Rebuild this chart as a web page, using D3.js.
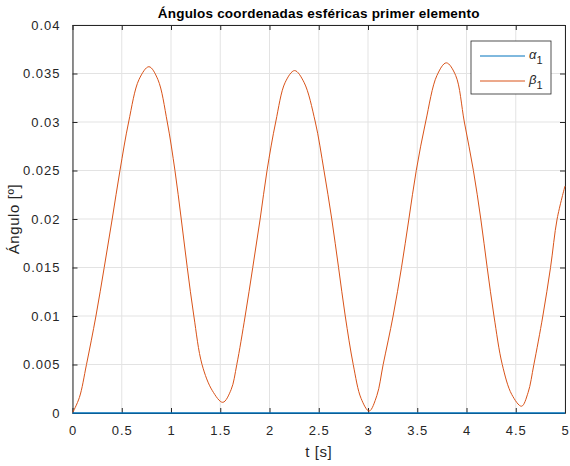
<!DOCTYPE html>
<html>
<head>
<meta charset="utf-8">
<script src="https://cdn.jsdelivr.net/npm/d3@7"></script>
<style>
  body { margin: 0; background: #fff; }
  text { font-family: "Liberation Sans", Arial, Helvetica, sans-serif; fill: #262626; }
</style>
</head>
<body>
<div id="angle_chart"></div>
<script>
// beta_1 (t in s, value in degrees)
const tValues = [0, 0.07, 0.142, 0.238, 0.322, 0.403, 0.482, 0.57, 0.676, 0.776, 0.866, 0.962, 1.04, 1.104, 1.165, 1.232, 1.315, 1.42, 1.526,
  1.61, 1.668, 1.753, 1.83, 1.905, 1.975, 2.063, 2.16, 2.255, 2.35, 2.465, 2.553, 2.632, 2.701, 2.769, 2.85, 2.93, 3.012,
  3.09, 3.154, 3.255, 3.34, 3.415, 3.49, 3.585, 3.7, 3.795, 3.89, 3.978, 4.07, 4.145, 4.21, 4.279, 4.363, 4.46, 4.559,
  4.625, 4.684, 4.775, 4.853, 4.92, 5.0];
const betaValues = [0, 0.0016, 0.005, 0.01, 0.015, 0.02, 0.025, 0.03, 0.0344, 0.0357, 0.0344, 0.03, 0.025, 0.02, 0.015, 0.01, 0.005, 0.0023, 0.0011,
  0.0024, 0.005, 0.01, 0.015, 0.02, 0.025, 0.03, 0.0341, 0.0353, 0.0341, 0.03, 0.025, 0.02, 0.015, 0.01, 0.005, 0.0015, 0.0002,
  0.0018, 0.005, 0.01, 0.015, 0.02, 0.025, 0.03, 0.0348, 0.0361, 0.0348, 0.03, 0.025, 0.02, 0.015, 0.01, 0.005, 0.0019, 0.0007,
  0.0021, 0.005, 0.01, 0.015, 0.02, 0.0234];

// alpha_1 stays at zero the whole time
const alphaT = [0, 5];
const alphaValues = [0, 0];

const xTicks = [0, 0.5, 1, 1.5, 2, 2.5, 3, 3.5, 4, 4.5, 5];
const yTicks = [0, 0.005, 0.01, 0.015, 0.02, 0.025, 0.03, 0.035, 0.04];

const seriesNames = ['α', 'β'];
const seriesColors = ['#0072bd', '#d95319'];

const margin = { top: 25, right: 5, bottom: 53, left: 72.5 },
  width = 570 - margin.left - margin.right,
  height = 466 - margin.top - margin.bottom;

const svg = d3.select('#angle_chart')
  .append('svg')
  .attr('width', 570)
  .attr('height', 466);

const g = svg.append('g')
  .attr('transform', 'translate(' + margin.left + ',' + margin.top + ')');

const xScale = d3.scaleLinear().domain([0, 5]).range([0, width]);
const yScale = d3.scaleLinear().domain([0, 0.04]).range([height, 0]);

// grid first so it sits below everything
g.append('g')
  .selectAll('line')
  .data(xTicks)
  .join('line')
  .attr('x1', d => xScale(d)).attr('x2', d => xScale(d))
  .attr('y1', 0).attr('y2', height)
  .attr('stroke', '#e3e3e3').attr('stroke-width', 1);

g.append('g')
  .selectAll('line')
  .data(yTicks)
  .join('line')
  .attr('x1', 0).attr('x2', width)
  .attr('y1', d => yScale(d)).attr('y2', d => yScale(d))
  .attr('stroke', '#e3e3e3').attr('stroke-width', 1);

const fmt = d => String(+d.toFixed(3));

// axes (box on, ticks pointing inward on all four sides)
const xAxis = d3.axisBottom(xScale).tickValues(xTicks).tickSizeInner(-5).tickSizeOuter(0).tickPadding(13).tickFormat(fmt);
const yAxis = d3.axisLeft(yScale).tickValues(yTicks).tickSizeInner(-5).tickSizeOuter(0).tickPadding(12).tickFormat(fmt);

const xAxisG = g.append('g').attr('transform', 'translate(0,' + height + ')').call(xAxis);
const yAxisG = g.append('g').call(yAxis);
const topAxisG = g.append('g').call(d3.axisTop(xScale).tickValues(xTicks).tickSizeInner(-5).tickSizeOuter(0).tickFormat(''));
const rightAxisG = g.append('g').attr('transform', 'translate(' + width + ',0)')
  .call(d3.axisRight(yScale).tickValues(yTicks).tickSizeInner(-5).tickSizeOuter(0).tickFormat(''));

[xAxisG, yAxisG, topAxisG, rightAxisG].forEach(a => {
  a.select('.domain').attr('stroke', '#262626');
  a.selectAll('.tick line').attr('stroke', '#262626');
  a.selectAll('.tick text').attr('font-size', 13).attr('fill', '#262626')
    .style('font-family', '"Liberation Sans", Arial, sans-serif')
    .style('letter-spacing', '1px');
});

// data lines
const line = d3.line()
  .x(d => xScale(d[0]))
  .y(d => yScale(d[1]))
  .curve(d3.curveCatmullRom.alpha(0.5));

g.append('path')
  .datum(d3.zip(tValues, betaValues))
  .attr('d', line)
  .attr('fill', 'none')
  .attr('stroke', seriesColors[1])
  .attr('stroke-width', 1);

g.append('path')
  .datum(d3.zip(alphaT, alphaValues))
  .attr('d', line)
  .attr('fill', 'none')
  .attr('stroke', seriesColors[0])
  .attr('stroke-width', 1.6);

// title and labels
svg.append('text')
  .attr('x', margin.left + width / 2).attr('y', 18)
  .attr('text-anchor', 'middle')
  .attr('font-size', 13.5).attr('font-weight', 'bold')
  .style('letter-spacing', '0.2px')
  .style('fill', '#000')
  .text('Ángulos coordenadas esféricas primer elemento');

svg.append('text')
  .attr('x', margin.left + width / 2).attr('y', 457)
  .attr('text-anchor', 'middle')
  .attr('font-size', 15)
  .style('letter-spacing', '0.6px')
  .text('t [s]');

svg.append('text')
  .attr('transform', 'translate(19,' + (margin.top + height / 2) + ') rotate(-90)')
  .attr('text-anchor', 'middle')
  .attr('font-size', 15)
  .style('letter-spacing', '0.6px')
  .text('Ángulo [º]');

// legend
const legend = svg.append('g').attr('transform', 'translate(471,41)');
legend.append('rect')
  .attr('width', 80).attr('height', 53)
  .attr('fill', '#fff').attr('stroke', '#262626').attr('stroke-width', 0.8);

seriesNames.forEach((name, i) => {
  const row = legend.append('g').attr('transform', 'translate(0,' + (15 + i * 25) + ')');
  row.append('line')
    .attr('x1', 9).attr('x2', 54)
    .attr('stroke', seriesColors[i]).attr('stroke-width', 1);
  const label = row.append('text')
    .attr('x', 58).attr('y', 3)
    .attr('font-size', 13);
  label.append('tspan').attr('font-style', 'italic').text(name);
  label.append('tspan').attr('dy', 5).attr('font-size', 11).text('1');
});
</script>
</body>
</html>
